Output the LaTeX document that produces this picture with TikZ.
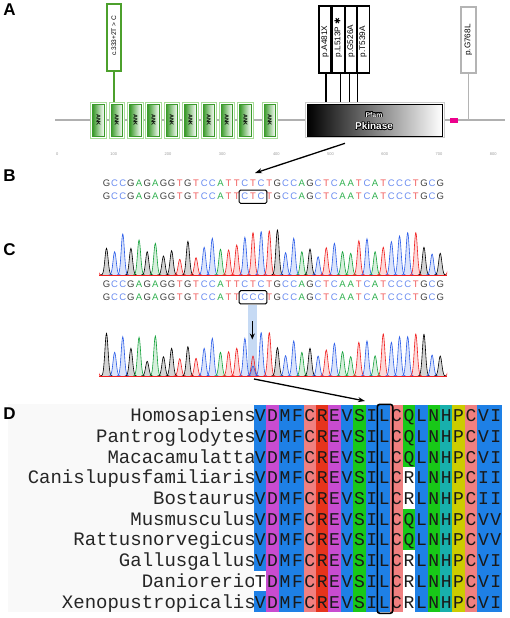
\documentclass[tikz,border=0pt]{standalone}
\usepackage{fontspec}
\setmainfont{Liberation Sans}
\newfontfamily\alnfont{Liberation Mono}
\newfontfamily\symfont{DejaVu Sans}
\usepackage{contour}
\contourlength{0.55pt}
\usetikzlibrary{arrows.meta,calc,fit}

\definecolor{ankgreen}{HTML}{3A9A2A}
\definecolor{anklight}{HTML}{A8DC98}
\definecolor{flaggreen}{HTML}{4CA02C}
\definecolor{flaggray}{HTML}{B4B4B4}
\definecolor{axisgray}{HTML}{B0B0B0}
\definecolor{baseG}{HTML}{404040}
\definecolor{baseC}{HTML}{6A8CF0}
\definecolor{baseA}{HTML}{2EB04E}
\definecolor{baseT}{HTML}{F05A5A}
\definecolor{traceG}{HTML}{000000}
\definecolor{traceC}{HTML}{2A5CE8}
\definecolor{traceA}{HTML}{12A038}
\definecolor{traceT}{HTML}{F01E1E}
\definecolor{hilite}{HTML}{C6DAF4}
\definecolor{cBlue}{HTML}{1E80E6}
\definecolor{cMag}{HTML}{C84CD0}
\definecolor{cSalmon}{HTML}{F08080}
\definecolor{cRed}{HTML}{E6341C}
\definecolor{cGreen}{HTML}{18C818}
\definecolor{cTeal}{HTML}{18B0AC}
\definecolor{cYellow}{HTML}{CCCC00}

\newcommand\wtseq{G,C,C,G,A,G,A,G,G,T,G,T,C,C,A,T,T,C,T,C,T,G,C,C,A,G,C,T,C,A,A,T,C,A,T,C,C,C,T,G,C,G}
\newcommand\mutseq{G,C,C,G,A,G,A,G,G,T,G,T,C,C,A,T,T,C,C,C,T,G,C,C,A,G,C,T,C,A,A,T,C,A,T,C,C,C,T,G,C,G}
% one peak of a trace: x, baseline, height, colour
\newcommand\chrompeak[4]{%
  \draw[#4,line width=0.6pt,fill=#4,fill opacity=0.17]
    plot[domain=-6:6,samples=25,smooth] ({#1+\x},{#2-(#3)*exp(-(\x)^2/5)});}

\begin{document}
\begin{tikzpicture}[x=1pt,y=-1pt,
  panel/.style={inner sep=0pt,font=\fontsize{17}{17}\selectfont\bfseries},
  ankbox/.style={draw=anklight,line width=1pt,fill=white,minimum width=15.5pt,minimum height=36pt,inner sep=0pt},
  flagbox/.style={line width=1.6pt,fill=white,inner sep=0pt,minimum height=66.7pt},
  mutlbl/.style={rotate=90,anchor=west,inner sep=0pt,font=\fontsize{8.2}{8.2}\selectfont},
  stem/.style={line width=1.3pt},
  nt/.style={inner sep=0pt,font=\fontsize{9.5}{9.5}\selectfont},
  seqbox/.style={draw=black,line width=1pt,rounded corners=1.5pt,inner xsep=2.2pt,inner ysep=3pt},
  pointer/.style={line width=1.3pt,-{Stealth[length=7pt,width=5pt]}},
  aa/.style={anchor=base,inner sep=0pt,text=black!90,font=\alnfont\fontsize{18}{18}\selectfont},
]
\useasboundingbox (0,0) rectangle (510,618);

% ---------------- A: protein map
\node[panel] (labA) at (9.5,10) {A};
\draw[axisgray,line width=2.5pt] (55,120) -- (505,120);
\foreach \ax [count=\k] in {98.45,116.75,135.45,153.45,171.75,190.45,208.75,226.75,245.45,269.75}{
  \node[ankbox] (ank\k) at (\ax,120) {};
  \shade[draw=ankgreen,line width=0.8pt,left color=ankgreen,right color=white]
    ($(ank\k.south west)+(2.5,-2.5)$) rectangle ($(ank\k.north east)+(-2.5,2.5)$);
  \node[rotate=-90,inner sep=0pt,font=\fontsize{5.5}{5.5}\selectfont\bfseries] (ankt\k) at (ank\k) {ANK};
}
% kinase domain
\node[draw=flaggray!70,line width=1pt,fill=white,minimum width=139.3pt,minimum height=35.4pt,inner sep=0pt] (kin) at (374.65,120) {};
\shade[draw=black,line width=1pt,left color=black,right color=white]
  ($(kin.south west)+(2.5,-2.2)$) rectangle ($(kin.north east)+(-2.3,2.2)$);
\node[text=white,inner sep=0pt,font=\fontsize{6.8}{6.8}\selectfont\bfseries] (pfam) at (374,115) {\contour{black}{Pfam}};
\node[text=white,inner sep=0pt,font=\fontsize{10}{10}\selectfont\bfseries] (pkin) at (374,126.3) {\contour{black}{Pkinase}};
\fill[magenta] (450,118.3) rectangle (458.3,122.7);
% mutation flags
\node[flagbox,draw=flaggreen,minimum width=13.7pt] (mutC) at (113.85,37.35) {};
\node[mutlbl,font=\fontsize{6.6}{6.6}\selectfont] (mutCt) at (113.85,56) {c.333+2T > C};
\draw[stem,flaggreen] (mutC.south) -- (mutC.south |- ank2.north);
\foreach \fx/\sx/\lbl [count=\k] in {325/326/{p.A481X},338.35/340.8/{p.L513P {\symfont\fontsize{8}{8}\selectfont ✱}},351.15/349.3/{p.G526A},363.15/357.5/{p.T539A}}{
  \node[flagbox,draw=black,minimum width=12.5pt] (mutP\k) at (\fx,39.35) {};
  \node[mutlbl] (mutPt\k) at (\fx,57.5) {\lbl};
  \coordinate (foot\k) at (\sx,102.3);
  \draw[stem] (mutP\k.south -| foot\k) -- (foot\k);
}
\node[flagbox,draw=flaggray,minimum width=14.7pt,minimum height=65.4pt] (mutG) at (468.35,40) {};
\node[mutlbl] (mutGt) at (468.35,56) {p.G768L};
\coordinate (footG) at (468.35,120);
\draw[stem,flaggray] (mutG.south) -- (footG);
% residue scale
\foreach \t [count=\k from 0] in {0,100,200,300,400,500,600,700,800}
  \node[anchor=west,inner sep=0pt,text=gray!80,font=\fontsize{4}{4}\selectfont] (tick\k) at ({56+54.2*\k},154) {\t};
\coordinate (kinfoot) at (345,143.3);
\coordinate (seqtop) at (255,173);
\draw[pointer] (kinfoot) -- (seqtop);

% ---------------- B: sequences
\node[panel] (labB) at (9.5,175.5) {B};
\foreach \b [count=\i] in \wtseq
  \node[nt,text=base\b] (bw\i) at ({106.5+8.14*(\i-1)},183.3) {\b};
\foreach \b [count=\i] in \wtseq
  \node[nt,text=base\b] (bm\i) at ({106.5+8.14*(\i-1)},196.7) {\b};
\node[seqbox,fit=(bm18)(bm20)] (boxB) {};

% ---------------- C: chromatograms
\node[panel] (labC) at (9.5,250) {C};
\fill[hilite] (248,305) rectangle (257,377);
\begin{scope}
  \clip (99,215) rectangle (447,276);
  \chrompeak{96}{275}{12}{traceT}
  \chrompeak{450}{275}{14}{traceT}
  \foreach \b/\h [count=\i] in {G/26.7,C/23.3,C/41,G/26.7,A/35,G/23.3,A/31.7,G/19,G/24.3,T/15.7,G/33.7,T/17.3,C/27.7,C/36.7,A/25.7,T/25,T/30,C/37.7,T/42.3,C/43.3,T/44,G/45,C/22.3,C/36.7,A/23.3,G/26,C/18.3,T/27.3,C/31.7,A/23.3,A/21.7,T/34.3,C/36.3,A/23.3,T/27.7,C/33.3,C/39,C/42.3,T/42.3,G/27.7,C/21,G/21.7}
    {\chrompeak{106.5+8.14*(\i-1)}{275}{\h}{trace\b}}
  \draw[traceT,line width=0.6pt] (99,275) -- (447,275);
\end{scope}
\foreach \b [count=\i] in \wtseq
  \node[nt,text=base\b] (cw\i) at ({106.5+8.14*(\i-1)},284) {\b};
\foreach \b [count=\i] in \mutseq
  \node[nt,text=base\b] (cm\i) at ({106.5+8.14*(\i-1)},297.3) {\b};
\node[seqbox,fit=(cm18)(cm20)] (boxC) {};
\coordinate (hiTop) at (252.3,321);
\coordinate (hiBot) at (252.3,339.5);
\draw[line width=1.3pt,-{Stealth[length=6pt,width=5pt]}] (hiTop) -- (hiBot);
\begin{scope}
  \clip (99,316) rectangle (447,377);
  \chrompeak{96}{376}{14}{traceT}
  \chrompeak{450}{376}{12}{traceT}
  \foreach \b/\h [count=\i] in {G/42.7,C/23.7,C/39.3,G/27.7,A/38.7,G/14.7,A/40,G/19.3,G/27.7,T/17.3,G/29.3,T/17.7,C/27.7,C/37.7,A/23.7,T/24.3,T/27.7,C/37.7,T/20,C/43.3,T/43.3,G/28.3,C/20.3,C/35,A/23.7,G/27.7,C/20,T/26,C/32.7,A/24.3,A/19.3,T/33.7,C/35,A/20.3,T/42,C/33.7,C/39.3,C/39.3,T/42,G/41.7,C/21,G/20}
    {\chrompeak{106.5+8.14*(\i-1)}{376}{\h}{trace\b}}
  \chrompeak{106.5+8.14*18}{376}{10}{traceC}
  \draw[traceT,line width=0.6pt] (99,376) -- (447,376);
\end{scope}
\coordinate (traceFoot) at (254,379);
\coordinate (alnTop) at (365,401);
\draw[pointer] (traceFoot) -- (alnTop);

% ---------------- D: alignment
\fill[gray!5] (8,404) rectangle (254,612);
\node[panel] (labD) at (9.5,414) {D};
\foreach \sp [count=\r] in {Homosapiens,Pantroglodytes,Macacamulatta,Canislupusfamiliaris,Bostaurus,Musmusculus,Rattusnorvegicus,Gallusgallus,Daniorerio,Xenopustropicalis}
  \node[anchor=base east,inner sep=0pt,text=black!85,font=\alnfont\fontsize{19}{19}\selectfont] (sp\r) at (256,{405+20.7*\r-4}) {\sp};
\foreach \cc [count=\c] in {cBlue,cMag,cBlue,cBlue,cSalmon,cRed,cMag,cBlue,cGreen,cBlue,cBlue,cSalmon,cGreen,cBlue,cGreen,cTeal,cYellow,cSalmon,cBlue,cBlue}
  \fill[\cc] ({254+12.4*(\c-1)},405) rectangle +(12.4,207);
\foreach \r/\c in {4/13,5/13,8/13,9/13,10/13,9/1}
  \fill[white] ({254+12.4*(\c-1)},{405+20.7*(\r-1)}) rectangle +(12.4,20.7);
\foreach \row [count=\r] in {
  {V,D,M,F,C,R,E,V,S,I,L,C,Q,L,N,H,P,C,V,I},
  {V,D,M,F,C,R,E,V,S,I,L,C,Q,L,N,H,P,C,V,I},
  {V,D,M,F,C,R,E,V,S,I,L,C,Q,L,N,H,P,C,V,I},
  {V,D,M,F,C,R,E,V,S,I,L,C,R,L,N,H,P,C,I,I},
  {V,D,M,F,C,R,E,V,S,I,L,C,R,L,N,H,P,C,I,I},
  {V,D,M,F,C,R,E,V,S,I,L,C,Q,L,N,H,P,C,V,V},
  {V,D,M,F,C,R,E,V,S,I,L,C,Q,L,N,H,P,C,V,V},
  {V,D,M,F,C,R,E,V,S,I,L,C,R,L,N,H,P,C,V,I},
  {T,D,M,F,C,R,E,V,S,I,L,C,R,L,N,H,P,C,V,I},
  {V,D,M,F,C,R,E,V,S,I,L,C,R,L,N,H,P,C,V,I}}{
  \foreach \a [count=\c] in \row
    \node[aa] (aa\r-\c) at ({254+12.4*(\c-0.5)},{405+20.7*\r-4}) {\a};
}
\draw[line width=1.6pt,rounded corners=2.5pt] (377.3,404.3) rectangle (392.7,613.3);
\end{tikzpicture}
\end{document}
